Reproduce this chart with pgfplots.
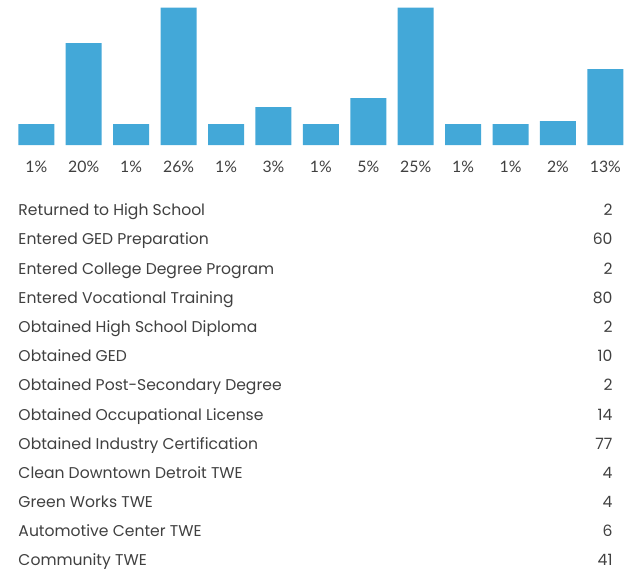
\documentclass[border=0pt]{standalone}
\usepackage{pgfplots}
\pgfplotsset{compat=1.18}
\usepackage{fontspec}
\setmainfont{Poppins}
\newfontfamily\labfont{Lato}
\definecolor{barblue}{HTML}{43A8D8}
\definecolor{txtgrey}{HTML}{404040}
\begin{document}
\begin{tikzpicture}
\useasboundingbox (0,0) rectangle (626bp,-573bp);
\begin{axis}[
  at={(12.6bp,-145bp)}, anchor=south west,
  scale only axis, width=616.5bp, height=137.3bp,
  xmin=-0.5, xmax=12.5, ymin=0, ymax=137.3,
  axis line style={draw=none},
  ytick=\empty,
  xtick=data,
  xticklabels={1\%,20\%,1\%,26\%,1\%,3\%,1\%,5\%,25\%,1\%,1\%,2\%,13\%},
  major tick length=0pt,
  xtick style={draw=none},
  xticklabel style={anchor=base, yshift=-27bp, font=\labfont\fontsize{15.8bp}{17bp}\selectfont, text=txtgrey},
  clip=false,
]
\addplot[ybar, bar width=36bp, fill=barblue, draw=none] coordinates {
 (0,21) (1,102) (2,21) (3,137.3) (4,21) (5,38) (6,21) (7,47) (8,137.3) (9,21) (10,21) (11,24) (12,76)
};
\end{axis}
\begin{scope}[every node/.style={text=txtgrey, font=\fontsize{15.6bp}{17bp}\selectfont, inner sep=0pt}]
\foreach \name/\val [count=\i from 0] in {Returned to High School/2, Entered GED Preparation/60, Entered College Degree Program/2, Entered Vocational Training/80, Obtained High School Diploma/2, Obtained GED/10, Obtained Post-Secondary Degree/2, Obtained Occupational License/14, Obtained Industry Certification/77, Clean Downtown Detroit TWE/4, Green Works TWE/4, Automotive Center TWE/6, Community TWE/41} {
  \node[anchor=base west] at (18.3bp, {-(215.7+29.19*\i)*1bp}) {\name};
  \node[anchor=base east] at (612.7bp, {-(215.7+29.19*\i)*1bp}) {\val};
}
\end{scope}
\end{tikzpicture}
\end{document}
